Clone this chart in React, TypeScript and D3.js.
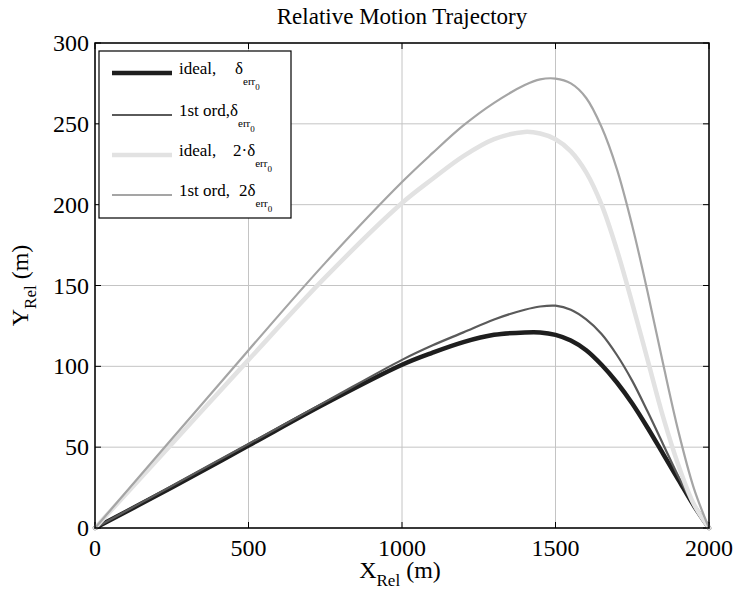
import React from "react";
import * as d3 from "d3";

const xVals = [0, 250, 500, 750, 1000, 1100, 1200, 1300, 1400, 1450, 1500, 1550, 1600, 1650, 1700, 1750, 1800, 1850, 1900, 1950, 2000];
const idealDelta = [0, 25, 51, 77, 101, 108.5, 115, 119.5, 121, 121, 119.5, 116, 110, 101, 90, 77, 62, 46, 30, 14, 0];
const firstOrdDelta = [0, 26, 52, 78, 104, 113, 121, 129, 135, 137, 137.5, 135, 129, 120, 107, 91, 72, 52, 32, 14, 0];
const ideal2Delta = [0, 52, 104, 155, 201, 216, 230, 240.5, 245, 244, 240.5, 233, 220, 200, 172, 139, 104, 69, 39, 15, 0];
const firstOrd2Delta = [0, 55, 110, 164, 214, 232, 249, 263, 274, 277.5, 278, 275, 266, 248, 222, 187, 146, 102, 60, 25, 0];

const xTicks = [0, 500, 1000, 1500, 2000];
const yTicks = [0, 50, 100, 150, 200, 250, 300];

const series = [
  { name: "ideal,", label2: "\u03B4", values: idealDelta, color: "#1e1e1e", width: 4.5, lx: 235 },
  { name: "1st ord,", label2: "\u03B4", values: firstOrdDelta, color: "#5a5a5a", width: 2.2, lx: null },
  { name: "ideal,", label2: "2\u00B7\u03B4", values: ideal2Delta, color: "#e2e2e2", width: 4.5, lx: 233 },
  { name: "1st ord,", label2: "2\u03B4", values: firstOrd2Delta, color: "#a5a5a5", width: 2.2, lx: 239 },
];

export default function App() {
  const W = 737, H = 593;
  const L = 95, R = 709, T = 43, B = 528;
  const x = d3.scaleLinear().domain([0, 2000]).range([L, R]);
  const y = d3.scaleLinear().domain([0, 300]).range([B, T]);
  const font = "Liberation Serif, Tinos, Times New Roman, Times, serif";

  const line = d3.line<number>()
    .x((_, i) => x(xVals[i]))
    .y((d) => y(d))
    .curve(d3.curveCatmullRom.alpha(0.5));

  const legendRows = [73, 115, 155, 195];

  return (
    <svg width={W} height={H} style={{ position: "absolute", left: 0, top: 0, fontFamily: font }}>
      <rect x={0} y={0} width={W} height={H} fill="#fff" />
      {xTicks.map((t) => (
        <line key={"gx" + t} x1={x(t)} x2={x(t)} y1={T} y2={B} stroke="#c4c4c4" strokeWidth={1} />
      ))}
      {yTicks.map((t) => (
        <line key={"gy" + t} x1={L} x2={R} y1={y(t)} y2={y(t)} stroke="#c4c4c4" strokeWidth={1} />
      ))}
      {xTicks.map((t) => (
        <g key={"tx" + t}>
          <line x1={x(t)} x2={x(t)} y1={B} y2={B - 6} stroke="#000" />
          <line x1={x(t)} x2={x(t)} y1={T} y2={T + 6} stroke="#000" />
          <text x={x(t)} y={556} fontSize={24} textAnchor="middle">{t}</text>
        </g>
      ))}
      {yTicks.map((t) => (
        <g key={"ty" + t}>
          <line x1={L} x2={L + 6} y1={y(t)} y2={y(t)} stroke="#000" />
          <line x1={R} x2={R - 6} y1={y(t)} y2={y(t)} stroke="#000" />
          <text x={L - 6} y={y(t) + 8} fontSize={24} textAnchor="end">{t}</text>
        </g>
      ))}
      {series.map((s, i) => (
        <path key={"s" + i} d={line(s.values) || ""} fill="none" stroke={s.color} strokeWidth={s.width} strokeLinejoin="round" strokeLinecap="round" />
      ))}
      <rect x={L} y={T} width={R - L} height={B - T} fill="none" stroke="#000" strokeWidth={1.5} />
      <text x={(L + R) / 2} y={24} fontSize={23} textAnchor="middle">Relative Motion Trajectory</text>
      <text x={400} y={578} fontSize={24} textAnchor="middle">
        X<tspan fontSize={17} dy={8}>Rel</tspan><tspan dy={-8}> (m)</tspan>
      </text>
      <text transform={`translate(28, ${(T + B) / 2}) rotate(-90)`} fontSize={24} textAnchor="middle">
        Y<tspan fontSize={17} dy={8}>Rel</tspan><tspan dy={-8}> (m)</tspan>
      </text>
      <rect x={99} y={51} width={192} height={167} fill="#fff" stroke="#000" strokeWidth={1.2} />
      {series.map((s, i) => {
        const ry = legendRows[i];
        return (
          <g key={"lg" + i}>
            <line x1={112} x2={172} y1={ry} y2={ry} stroke={s.color} strokeWidth={s.width} />
            <text x={179} y={ry + 1} fontSize={17} fill="#000">
              {s.name}
              {s.lx !== null ? <tspan x={s.lx}>{s.label2}</tspan> : <tspan>{s.label2}</tspan>}
              <tspan fontSize={11} dy={11}>err</tspan>
              <tspan fontSize={9} dy={5}>0</tspan>
            </text>
          </g>
        );
      })}
    </svg>
  );
}
